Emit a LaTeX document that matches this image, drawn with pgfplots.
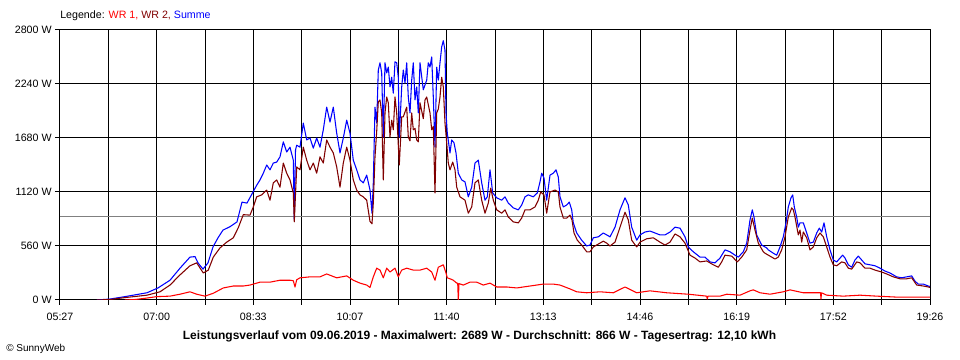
\documentclass[border=0pt]{standalone}
\usepackage{fontspec}
\setmainfont{Liberation Sans}
\usepackage{pgfplots}
\pgfplotsset{compat=1.18}
\definecolor{wrone}{RGB}{255,0,0}
\definecolor{wrtwo}{RGB}{128,0,0}
\definecolor{summe}{RGB}{0,0,255}
\definecolor{avg}{RGB}{128,128,128}
\begin{document}
\begin{tikzpicture}
\path[use as bounding box] (-45pt,-45pt) rectangle (675pt,225pt);
\begin{axis}[
  at={(0pt,0pt)}, anchor=south west,
  scale only axis, width=652.5pt, height=202.5pt,
  xmin=60, xmax=930, ymin=0, ymax=2800,
  xtick={60,108.33,156.67,205,253.33,301.67,350,398.33,446.67,495,543.33,591.67,640,688.33,736.67,785,833.33,881.67,930},
  xticklabels={05:27,,07:00,,08:33,,10:07,,11:40,,13:13,,14:46,,16:19,,17:52,,19:26},
  ytick={0,560,1120,1680,2240,2800},
  yticklabels={0 W,560 W,1120 W,1680 W,2240 W,2800 W},
  grid=major, major grid style={black, line width=0.75pt},
  axis line style={black, line width=0.75pt},
  tick style={black, line width=0.75pt},
  tick align=outside, major tick length=3.75pt,
  xtick pos=bottom, ytick pos=left,
  tick label style={font=\fontsize{8}{9}\selectfont},
  yticklabel style={xshift=1pt},
  xticklabel style={yshift=-2.5pt},
  every axis plot/.append style={line join=round, line width=0.8pt},
]
\addplot[avg, line width=0.75pt] coordinates {(60,866) (930,866)};
\addplot[summe] table {
97 0
110 10
125 35
147 75
158 125
170 205
180 330
190 445
195 450
198 385
203 320
208 385
213 550
218 645
223 725
230 760
237 810
242 1015
247 1005
253 1120
256.7 1190
260 1245
263.3 1315
266.7 1400
270 1350
273.3 1420
276.7 1430
280 1485
283.3 1640
286.7 1535
290 1585
293.3 1450
294.3 830
295.5 1555
296.7 1605
300 1585
303.3 1835
306.7 1660
310 1680
313.3 1575
316.7 1680
320 1585
323.3 1765
326.7 2000
330 1845
333.3 2000
336.7 1730
340 1525
343.3 1680
346.7 1865
350 1730
353.3 1450
356.7 1350
360 1245
363.3 1215
366.7 1295
370 1140
372 900
373.3 1215
375 2000
376.7 1835
378.3 2385
380 2460
381.7 2355
383.3 1690
385 2460
386.7 2355
388.3 2415
390 2210
391.7 2310
393.3 2145
395 2470
396.7 2460
398.3 2310
399.3 1690
401.7 2210
403.3 2385
405 2250
406.7 2460
408.3 2105
410 1940
411.7 2280
413.3 2460
415 2075
416.7 2210
418.3 1940
420 2460
423.3 2180
426.7 2280
428.3 2460
430 2415
431.7 2520
433.3 2105
435 1585
436.7 2415
438.3 2280
440 2460
441.7 2625
443.3 2689
445 2590
446 1940
447.3 1730
450 1525
451.7 1660
454 1630
456 1525
458.3 1315
461.7 1245
465 1225
468.3 1070
471.7 1170
475 1420
478.3 1450
481.7 1215
485 1035
487.3 1070
490 1350
492.7 1110
496.7 1060
501.7 1035
505 1070
508.3 1005
513.3 955
518.3 935
521.7 985
525 1070
528.3 1090
533.3 1070
537.3 1110
540 1225
541.7 1315
544 1265
546.7 1035
550 1295
553.3 1315
556 1350
558.3 1275
560 1070
563.3 965
566.7 985
569.3 1015
571.7 935
573.3 800
576.7 695
581.7 620
586.7 560
590 570
593.3 645
598.3 655
603.3 695
606.7 675
610 655
615 755
620 935
625 1060
628.3 985
631.7 755
636.7 620
640 675
645 705
650 715
655 695
660 675
665 675
670 705
675 755
680 745
685 655
688.3 550
693.3 500
700 445
705 445
710 395
715 385
720 435
725 520
730 500
735 465
738.3 445
743.3 500
746.7 590
750 830
752.3 935
754 860
756.7 675
761.7 570
766.7 540
768.3 520
773.3 485
776.7 465
780 550
783.3 655
786 800
788.3 965
791 1060
792.7 1090
794.3 965
796.7 860
798.3 755
800 800
803.3 800
806.7 695
810 590
813.3 600
816.7 695
819.3 745
821.7 705
824 800
826.7 655
830 520
833.3 415
836.7 395
840 435
842.7 465
845 435
848.3 365
851.7 340
855 415
858.3 455
861.7 415
865 375
870 365
875 355
880 330
885 300
890 280
896.7 240
901.7 230
906.7 240
911.7 250
915 195
918.3 165
923.3 165
928.3 145
930 140
};
\addplot[wrtwo] table {
97 0
110 5
125 25
147 50
160 85
170 155
180 260
190 355
196.7 385
203.3 280
208.3 310
213.3 445
220 540
226.7 600
233.3 645
238.3 750
243.3 885
250 880
253.3 965
256.7 1070
261.7 1090
266.7 1140
270 1035
273.3 1215
276.7 1245
280 1170
283.3 1420
286.7 1315
290 1245
293.3 1110
294.3 810
296.7 1380
300 1350
303.3 1585
306.7 1450
310 1350
313.3 1420
316.7 1315
320 1485
323.3 1420
326.7 1660
330 1585
333.3 1525
336.7 1380
340 1170
343.3 1420
346.7 1585
350 1450
353.3 1245
356.7 1140
360 1090
363.3 1070
366.7 1035
370 815
372 790
373.3 1005
375 1485
376.7 1750
378.3 2055
380 2075
381.7 1940
383.3 1245
385 1940
386.7 2105
388.3 2045
390 1690
391.7 1865
393.3 1765
395 2105
396.7 1940
399.3 1400
401.7 1900
403.3 1900
405 1950
406.7 2000
408.3 1690
410 1650
411.7 1940
413.3 1765
415 1780
416.7 1660
418.3 1640
420 2045
423.3 1880
425 2075
426.7 2105
430 1940
431.7 1765
433.3 1800
435 1110
436.7 1940
438.3 1980
440 2105
441.7 2310
443.3 2210
445 1835
446.7 1630
448.3 1420
450 1350
452.7 1430
455 1350
456.7 1170
460 1070
465 1035
468.3 900
471.7 965
475 1215
478.3 1245
481.7 1035
485 900
488.3 1005
490.7 1160
493.3 1035
496.7 935
501.7 900
505 935
508.3 860
513.3 810
518.3 800
521.7 850
525 935
530 935
535 965
538.3 1035
540.7 1120
544 1090
546.7 900
550 1120
555 1140
558.3 1120
560 965
563.3 850
566.7 850
570 880
572 830
574 695
577.3 620
581.7 570
586.7 500
590 500
593.3 550
598.3 580
603.3 610
606.7 590
610 560
615 600
620 755
625 910
628.3 830
631.7 620
636.7 550
640 600
646.7 635
653.3 645
660 600
665 570
670 600
675 685
680 655
685 590
690 465
695 435
700 395
706.7 405
713.3 365
718.3 340
721.7 395
725 465
731.7 455
737.3 395
741.7 445
746.7 520
750 725
752.3 850
755 725
758.3 590
763.3 500
765 485
770 455
775 425
778.3 445
781.7 520
785 655
788.3 860
791.7 955
793.3 935
795 860
798.3 675
800 725
801.7 600
803.3 705
806.7 645
810 520
813.3 550
816.7 645
820 695
823.3 655
826.7 550
830 445
833.3 365
836.7 355
841.7 395
845 385
848.3 330
851.7 320
856.7 395
860 385
865 330
870 330
875 310
881.7 290
886.7 270
893.3 240
900 220
906.7 220
911.7 230
916.7 155
923.3 145
928.3 135
930 130
};
\addplot[wrone] table {
125 0
135 5
146.7 20
156.7 35
170 40
180 60
190 85
196.7 60
205 40
213.3 70
223.3 125
233.3 145
243.3 145
250 155
260 185
270 185
280 205
290 205
293.3 200
295 135
296.7 210
300 230
310 240
320 240
326.7 270
336.7 230
346.7 250
353.3 205
360 175
366.7 155
370 130
373.3 240
376.7 330
380 310
383.3 230
386.7 330
390 290
395 330
398.3 240
401.7 310
406.7 330
413.3 310
420 310
426.7 330
431.7 290
435 205
438.3 340
443.3 365
446 280
447.3 230
450 220
453.3 205
456.7 175
457.7 175
458.3 0
459 170
463.3 155
470 185
476.7 185
483.3 155
490 175
496.7 135
506.7 135
516.7 125
530 145
543.3 165
553.3 165
560 155
570 115
576.7 85
586.7 75
600 85
613.3 75
625 135
636.7 75
650 95
666.7 75
688.3 60
706.7 40
707.3 10
708 40
720 40
726.7 60
740 50
750 95
753.3 105
760 75
770 60
783.3 85
790 105
803.3 75
818.3 75
820.5 75
821 10
821.5 75
826.7 50
843.3 40
860 50
876.7 40
896.7 30
930 30
};
\end{axis}
\node[anchor=west, inner sep=0pt, font=\fontsize{8}{9}\selectfont] at (0pt,213pt) {Legende: \textcolor{wrone}{WR 1,} \textcolor{wrtwo}{WR 2,} \textcolor{summe}{Summe}};
\node[inner sep=0pt, font=\bfseries\fontsize{9}{10}\selectfont] at (314.6pt,-27.5pt) {Leistungsverlauf vom 09.06.2019 - Maximalwert: 2689 W - Durchschnitt: 866 W - Tagesertrag: 12,10 kWh};
\node[anchor=west, inner sep=0pt, font=\fontsize{7.5}{9}\selectfont] at (-40.5pt,-37pt) {© SunnyWeb};
\end{tikzpicture}
\end{document}
